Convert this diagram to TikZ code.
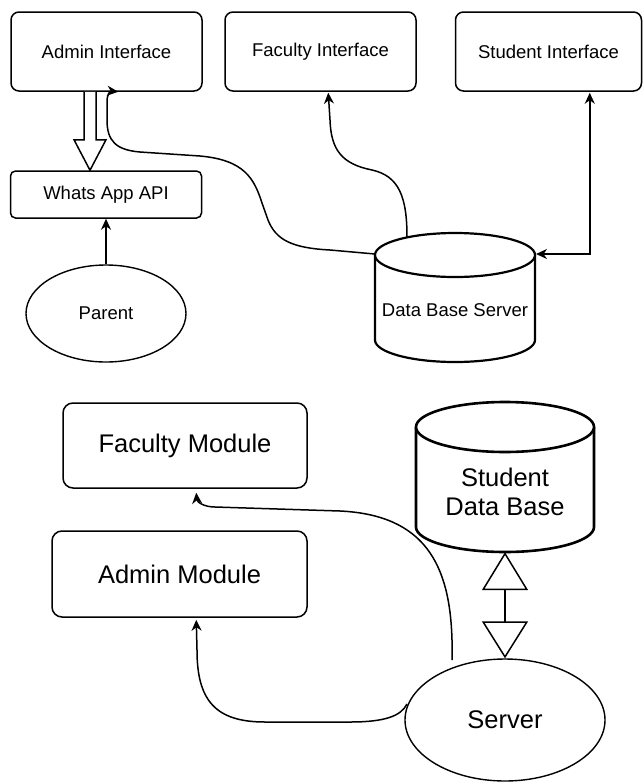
\documentclass[tikz,border=0pt]{standalone}
\usepackage{fontspec}
\setmainfont{Liberation Sans}
\usetikzlibrary{arrows.meta,calc,shapes.geometric}
\begin{document}
\begin{tikzpicture}[x=1pt,y=-1pt,
  smallfont/.style={font=\fontsize{18.5}{22}\selectfont},
  bigfont/.style={font=\fontsize{25.5}{29}\selectfont},
  box/.style={draw, rounded corners=8pt, line width=1.5pt, inner sep=0pt, smallfont},
  bigbox/.style={draw, rounded corners=10pt, line width=1.5pt, inner sep=0pt, bigfont},
  ell/.style={draw, ellipse, line width=1.4pt, inner sep=0pt},
  cyl/.style={line width=2.2pt, fill=white},
  holder/.style={inner sep=0pt, draw=none},
  tip/.tip={Stealth[length=11pt,width=10pt,inset=3.5pt]},
  conn/.style={line width=1.5pt, -tip},
  dconn/.style={line width=1.5pt, tip-tip},
  hollow/.style={line width=1.5pt, fill=white}
]
\useasboundingbox (0,0) rectangle (643,782);

% ---------- top part ----------
\node[box, minimum width=191pt, minimum height=79pt] (ai) at (106.5,51.5) {Admin Interface};
\node[box, minimum width=191pt, minimum height=79pt] (fi) at (320.5,51.5) {Faculty Interface};
\node[box, minimum width=186pt, minimum height=79pt] (si) at (548.5,51.5) {Student Interface};
\node[box, rounded corners=5pt, minimum width=191pt, minimum height=47pt] (wa) at (106,194.5) {Whats App API};
\node[ell, smallfont, minimum width=160pt, minimum height=97pt] (par) at (106,313.5) {Parent};

% Data Base Server cylinder
\node[holder, minimum width=160pt, minimum height=129pt] (dbs) at (455,297.5) {};
\draw[cyl] (375,255) -- (375,340) arc[start angle=180,end angle=360,x radius=80pt,y radius=22pt] -- (535,255);
\draw[cyl] (455,255) ellipse[x radius=80pt, y radius=22pt];
\node[smallfont, inner sep=0pt] (dbstext) at (455,310) {Data Base Server};
\coordinate (dbsL) at (375,254);
\coordinate (dbsR) at (536,254);
\coordinate (dbsT) at (407,237);

% hollow block arrow Admin Interface -> Whats App API
\draw[hollow] ($(ai.south)+(-22.5,0)$) -- ($(ai.south)+(-22.5,48)$) -- ($(ai.south)+(-32.5,48)$)
  -- (wa.north -| 90,0) -- ($(ai.south)+(-0.5,48)$) -- ($(ai.south)+(-10.5,48)$) -- ($(ai.south)+(-10.5,0)$);

% Parent -> Whats App
\draw[conn] (par.north) -- (par.north |- wa.south);

% Data Base Server -> Admin Interface
\draw[conn] (dbsL) -- (330,250) .. controls (292,248) and (276,240) .. (268,220)
  -- (262,203) .. controls (254,178) and (244,160) .. (200,156)
  -- (140,152) .. controls (116,150) and (107,141) .. (107,120)
  -- (107,102) .. controls (107,94) and (110,91) .. ($(ai.south west)+(108,0)$);

% Data Base Server -> Faculty Interface
\draw[conn] (dbsT) .. controls (407,197) and (399,176) .. (372,170)
  .. controls (342,164) and (331,150) .. (330,120) -- ($(fi.south west)+(104,1)$);

% Student Interface <-> Data Base Server
\draw[dconn] ($(si.south west)+(135,1)$) |- (dbsR);

% ---------- bottom part ----------
\node[bigbox, minimum width=244pt, minimum height=85pt] (fm) at (185,445.5) {Faculty Module};
\node[bigbox, minimum width=255pt, minimum height=86pt] (am) at (179.5,574) {Admin Module};

% Student Data Base cylinder
\node[holder, minimum width=178pt, minimum height=150pt] (sdb) at (505,477) {};
\draw[cyl, line width=2.6pt] (416,427) -- (416,527) arc[start angle=180,end angle=360,x radius=89pt,y radius=25pt] -- (594,427);
\draw[cyl, line width=2.6pt] (505,427) ellipse[x radius=89pt, y radius=25pt];
\node[bigfont, align=center, inner sep=0pt] (sdbtext) at (505,492) {Student\\Data Base};

\node[ell, bigfont, minimum width=200pt, minimum height=122pt] (srv) at (505,720) {Server};

% Student Data Base <-> Server (hollow triangles)
\draw[line width=1.5pt, {Triangle[open,length=38pt,width=46pt]}-{Triangle[open,length=37pt,width=46pt]}] (sdb.south) -- (srv.north);

% Server -> Faculty Module
\coordinate (srvA) at (452,660);
\draw[conn] (srvA) -- (452,640) .. controls (450,565) and (425,515) .. (340,511)
  -- (215,507) .. controls (204,507) and (197,502) .. ($(fm.south west)+(134,4)$);

% Server -> Admin Module
\coordinate (srvB) at (407,704);
\draw[conn] (srvB) .. controls (401,716) and (385,722) .. (350,722)
  -- (265,722) .. controls (215,722) and (197,700) .. (197,650) -- ($(am.south west)+(145,2)$);
\end{tikzpicture}
\end{document}
